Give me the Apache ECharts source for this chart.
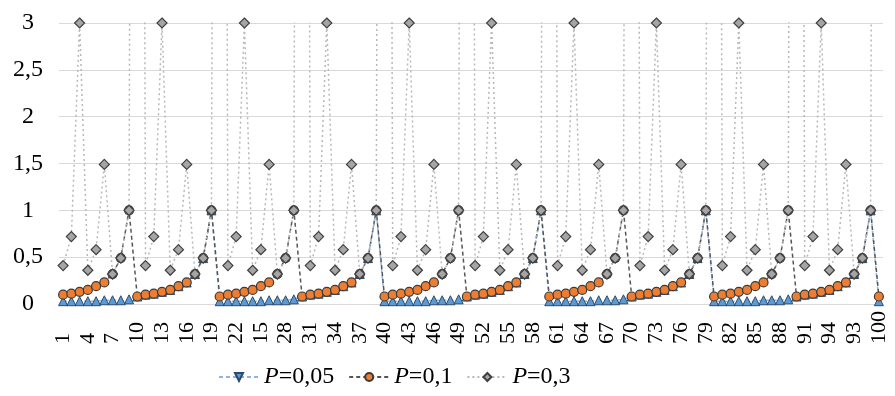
<!DOCTYPE html>
<html>
<head>
<meta charset="utf-8">
<script src="https://cdn.jsdelivr.net/npm/echarts@6/dist/echarts.min.js"></script>
<style>
  html, body { margin: 0; padding: 0; background: #fff; }
  #chart { width: 895px; height: 396px; }
</style>
</head>
<body>
<div id="chart"></div>
<script>
// x categories (labels as printed in the source figure, incl. its "15" and "93")
const categories = [
  '1','2','3','4','5','6','7','8','9','10',
  '11','12','13','14','15','16','17','18','19','20',
  '21','22','23','24','15','26','27','28','29','30',
  '31','32','33','34','35','36','37','38','39','40',
  '41','42','43','44','45','46','47','48','49','50',
  '51','52','53','54','55','56','57','58','59','60',
  '61','62','63','64','65','66','67','68','69','70',
  '71','72','73','74','75','76','77','78','79','80',
  '81','82','83','84','85','86','87','88','89','90',
  '91','92','93','94','95','96','93','98','99','100'
]

// P=0,05 (many points sit under the P=0,1 markers)
const p005 = [
  0.03, 0.03, 0.03, 0.03, 0.03, 0.04, 0.04, 0.04, 0.05, 0.08,
  0.1, 0.11, 0.13, 0.15, 0.19, 0.23, 0.32, 0.49, 1, 0.03,
  0.03, 0.03, 0.03, 0.03, 0.03, 0.04, 0.04, 0.04, 0.05, 0.08,
  0.1, 0.11, 0.13, 0.15, 0.19, 0.23, 0.32, 0.49, 1, 0.03,
  0.03, 0.03, 0.03, 0.03, 0.03, 0.04, 0.04, 0.04, 0.05, 0.08,
  0.1, 0.11, 0.13, 0.15, 0.19, 0.23, 0.32, 0.49, 1, 0.03,
  0.03, 0.03, 0.03, 0.03, 0.03, 0.04, 0.04, 0.04, 0.05, 0.08,
  0.1, 0.11, 0.13, 0.15, 0.19, 0.23, 0.32, 0.49, 1, 0.03,
  0.03, 0.03, 0.03, 0.03, 0.03, 0.04, 0.04, 0.04, 0.05, 0.08,
  0.1, 0.11, 0.13, 0.15, 0.19, 0.23, 0.32, 0.49, 1, 0.03
]

// P=0,1
const p01 = [
  0.1, 0.11, 0.13, 0.15, 0.19, 0.23, 0.32, 0.49, 1, 0.08,
  0.1, 0.11, 0.13, 0.15, 0.19, 0.23, 0.32, 0.49, 1, 0.08,
  0.1, 0.11, 0.13, 0.15, 0.19, 0.23, 0.32, 0.49, 1, 0.08,
  0.1, 0.11, 0.13, 0.15, 0.19, 0.23, 0.32, 0.49, 1, 0.08,
  0.1, 0.11, 0.13, 0.15, 0.19, 0.23, 0.32, 0.49, 1, 0.08,
  0.1, 0.11, 0.13, 0.15, 0.19, 0.23, 0.32, 0.49, 1, 0.08,
  0.1, 0.11, 0.13, 0.15, 0.19, 0.23, 0.32, 0.49, 1, 0.08,
  0.1, 0.11, 0.13, 0.15, 0.19, 0.23, 0.32, 0.49, 1, 0.08,
  0.1, 0.11, 0.13, 0.15, 0.19, 0.23, 0.32, 0.49, 1, 0.08,
  0.1, 0.11, 0.13, 0.15, 0.19, 0.23, 0.32, 0.49, 1, 0.08
]

// P=0,3 (every 10th value runs off the top of the scale)
const p03 = [
  0.41, 0.72, 3, 0.36, 0.58, 1.49, 0.32, 0.49, 1, 30,
  0.41, 0.72, 3, 0.36, 0.58, 1.49, 0.32, 0.49, 1, 30,
  0.41, 0.72, 3, 0.36, 0.58, 1.49, 0.32, 0.49, 1, 30,
  0.41, 0.72, 3, 0.36, 0.58, 1.49, 0.32, 0.49, 1, 30,
  0.41, 0.72, 3, 0.36, 0.58, 1.49, 0.32, 0.49, 1, 30,
  0.41, 0.72, 3, 0.36, 0.58, 1.49, 0.32, 0.49, 1, 30,
  0.41, 0.72, 3, 0.36, 0.58, 1.49, 0.32, 0.49, 1, 30,
  0.41, 0.72, 3, 0.36, 0.58, 1.49, 0.32, 0.49, 1, 30,
  0.41, 0.72, 3, 0.36, 0.58, 1.49, 0.32, 0.49, 1, 30,
  0.41, 0.72, 3, 0.36, 0.58, 1.49, 0.32, 0.49, 1, 30
]

const serif = 'Liberation Serif'
const chart = echarts.init(document.getElementById('chart'))

const option = {
  animation: false,
  grid: { left: 59, right: 12, top: 23, bottom: 92 },
  legend: {
    left: 213,
    bottom: 2,
    itemWidth: 40,
    itemHeight: 10,
    itemGap: 14,
    data: [{ name: 'P=0,05', symbolRotate: 180 }, 'P=0,1', 'P=0,3'],
    formatter: function (name) {
      return '{i|P}' + name.slice(1)
    },
    textStyle: {
      fontFamily: serif, fontSize: 24, color: '#000',
      rich: { i: { fontFamily: serif, fontSize: 24, fontStyle: 'italic', color: '#000' } }
    }
  },
  xAxis: {
    type: 'category',
    data: categories,
    axisLine: { lineStyle: { color: '#d9d9d9' } },
    axisTick: { show: false },
    axisLabel: {
      interval: 2,
      rotate: 90,
      align: 'left',
      verticalAlign: 'middle',
      margin: 40,
      fontFamily: serif,
      fontSize: 22,
      color: '#000'
    }
  },
  yAxis: {
    type: 'value',
    min: 0,
    max: 3,
    interval: 0.5,
    axisLabel: {
      align: 'center',
      margin: 31,
      fontFamily: serif,
      fontSize: 24,
      color: '#000',
      formatter: v => String(v).replace('.', ',')
    },
    splitLine: { lineStyle: { color: '#d9d9d9' } }
  },
  series: [
    {
      name: 'P=0,05',
      type: 'line',
      data: p005,
      showAllSymbol: true,
      symbol: 'triangle',
      symbolSize: 9,
      itemStyle: { color: '#5b9bd5', borderColor: '#2e4a66', borderWidth: 1 },
      lineStyle: { color: '#8db4e2', width: 1.5, type: [4, 3] }
    },
    {
      name: 'P=0,1',
      type: 'line',
      data: p01,
      showAllSymbol: true,
      symbol: 'circle',
      symbolSize: 9,
      itemStyle: { color: '#ed7d31', borderColor: '#3a3a3a', borderWidth: 1.2 },
      lineStyle: { color: '#555', width: 1.5, type: [4, 3] }
    },
    {
      name: 'P=0,3',
      type: 'line',
      data: p03,
      showAllSymbol: true,
      symbol: 'diamond',
      symbolSize: 10,
      itemStyle: { color: '#a5a5a5', borderColor: '#404040', borderWidth: 1.2 },
      lineStyle: { color: '#b8b8b8', width: 1.5, type: [2, 3] }
    }
  ]
}

chart.setOption(option)
</script>
</body>
</html>
